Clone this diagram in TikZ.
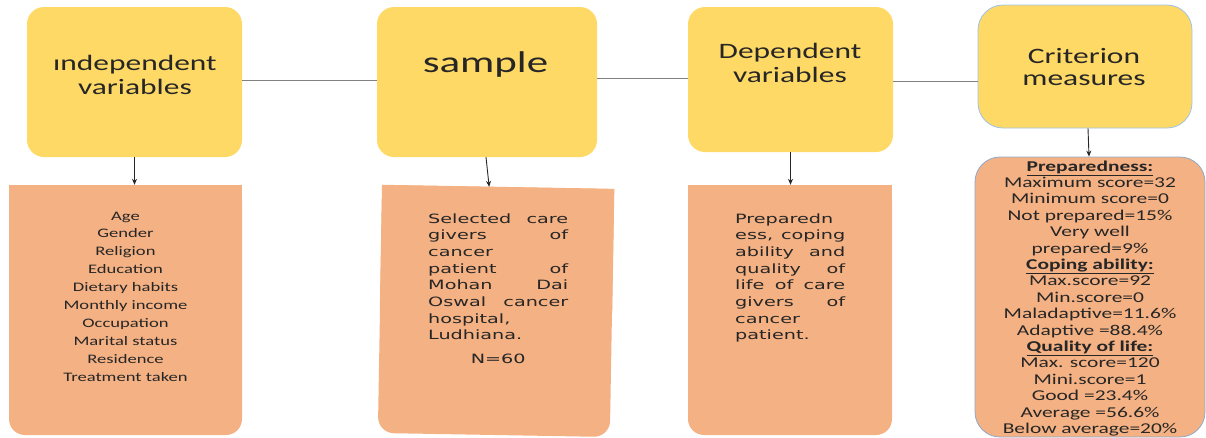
\documentclass[tikz,border=0pt]{standalone}
\usepackage{fontspec}
\setmainfont{Carlito}
\newfontfamily\wide[FakeStretch=1.43]{Carlito}
\newfontfamily\widedv[FakeStretch=1.5]{DejaVu Sans}
\usetikzlibrary{arrows.meta}

\definecolor{boxgold}{HTML}{FFD966}
\definecolor{boxpeach}{HTML}{F4B183}
\definecolor{rimblue}{HTML}{9DC3E6}
\definecolor{rimslate}{HTML}{8FA9C9}
\definecolor{linkgray}{HTML}{808080}
\definecolor{ink}{HTML}{262626}

% centred stack of lines; the box baseline is the first line's baseline
\newcommand\linesc[1]{\vtop{\halign{\hfil##\hfil\cr#1\crcr}}}
% one justified line of a fixed-width column
\newcommand\jline[2]{\hbox to #1{#2}}

\tikzset{
  head/.style={fill=boxgold, draw=none, rounded corners=17pt, inner sep=0pt},
  low/.style={fill=boxpeach, draw=none, rounded corners=16pt, inner sep=0pt},
  link/.style={draw=linkgray, line width=0.9pt},
  drop/.style={draw=ink, line width=0.9pt, -{Stealth[length=6pt,width=5pt]}},
  title/.style={font=\wide\fontsize{22}{24}\selectfont, text=ink, inner sep=0pt, anchor=base},
  listtext/.style={font=\wide\fontsize{13}{17.9}\selectfont, text=ink, inner sep=0pt, anchor=base},
  scoretext/.style={font=\wide\fontsize{15}{16.4}\selectfont, text=ink, inner sep=0pt, anchor=base},
  paratext/.style={font=\widedv\fontsize{12.8}{16.7}\selectfont, text=ink, inner sep=0pt, anchor=base west},
}

\begin{document}
\begin{tikzpicture}[x=1pt, y=-1pt]
\useasboundingbox (0,0) rectangle (1206,437);

% upper row
\node[head, minimum width=215pt, minimum height=150pt] (b1) at (134.5,82) {};
\node[head, minimum width=220pt, minimum height=150pt] (b2) at (487,82) {};
\node[head, minimum width=205pt, minimum height=145pt] (b3) at (790.5,79.5) {};
\node[head, draw=rimblue, line width=0.8pt, rounded corners=25pt,
      minimum width=214pt, minimum height=123pt] (b4) at (1085,66.5) {};

% lower row
\node[low, minimum width=233pt, minimum height=250pt] (b5) at (125.5,310) {};
\node[low, rotate=-1, minimum width=232pt, minimum height=248pt] (b6) at (496,311) {};
\node[low, minimum width=204pt, minimum height=250pt] (b7) at (790,310) {};
\node[low, draw=rimslate, line width=0.8pt, rounded corners=25pt,
      minimum width=230pt, minimum height=280pt] (b8) at (1090,297) {};

% square off the upper corners of the three open-topped boxes
\foreach \b in {b5,b6,b7}
  \fill[boxpeach] (\b.north west) -- (\b.north east) -- (\b.east) -- (\b.west) -- cycle;

% connectors
\draw[link] ([yshift=2pt]b1.east) -- ([yshift=2pt]b1.east -| b2.west);
\draw[link] ([yshift=4pt]b2.east) -- ([yshift=4pt]b2.east -| b3.west);
\draw[link] ([yshift=-1.5pt]b3.east) -- ([yshift=-1.5pt]b3.east -| b4.west);

\draw[drop] (b1.south) -- (b1.south |- b5.north);
\draw[drop] ([xshift=-1pt]b2.south) -- ([xshift=-9pt]b6.north);
\draw[drop] (b3.south) -- (b3.south |- b7.north);
\draw[drop] ([xshift=3pt]b4.south) -- ([xshift=-1pt]b8.north);

% headings
\node[title] (t1) at (135,70) {\linesc{ındependent\cr variables}};
\node[title, font=\wide\fontsize{30}{32}\selectfont] (t2) at (485.5,72) {sample};
\node[title] (t3) at (790,58) {\linesc{Dependent\cr variables}};
\node[title, font=\wide\fontsize{22}{22}\selectfont] (t4) at (1084,63) {\linesc{Criterion\cr measures}};

% contents of the lower boxes
\node[listtext] (l5) at (125.5,220) {\linesc{Age\cr Gender\cr Religion\cr Education\cr
  Dietary habits\cr Monthly income\cr Occupation\cr Marital status\cr Residence\cr Treatment taken}};

\node[paratext] (l6) at (428,223) {\vtop{\hsize=140pt
  \jline{140pt}{Selected\hfill care}
  \jline{140pt}{givers\hfill of}
  \jline{140pt}{cancer\hfil}
  \jline{140pt}{patient\hfill of}
  \jline{140pt}{Mohan\hfill Dai}
  \jline{140pt}{Oswal\hfill cancer}
  \jline{140pt}{hospital,\hfil}
  \jline{140pt}{Ludhiana.\hfil}
  \vskip 7pt
  \jline{140pt}{\hfil N=60\hfil}}};

\node[paratext] (l7) at (735,223) {\vtop{\hsize=110pt
  \jline{110pt}{Preparedn\hfil}
  \jline{110pt}{ess,\hfill coping}
  \jline{110pt}{ability\hfill and}
  \jline{110pt}{quality\hfill of}
  \jline{110pt}{life\hfill of\hfill care}
  \jline{110pt}{givers\hfill of}
  \jline{110pt}{cancer\hfil}
  \jline{110pt}{patient.\hfil}}};

\node[scoretext] (l8) at (1090,171) {\linesc{\underline{\textbf{Preparedness:}}\cr
  Maximum score=32\cr Minimum score=0\cr Not prepared=15\%\cr Very well\cr prepared=9\%\cr
  \underline{\textbf{Coping ability:}}\cr Max.score=92\cr Min.score=0\cr Maladaptive=11.6\%\cr
  Adaptive =88.4\%\cr \underline{\textbf{Quality of life:}}\cr Max. score=120\cr Mini.score=1\cr
  Good =23.4\%\cr Average =56.6\%\cr Below average=20\%}};
\end{tikzpicture}
\end{document}
